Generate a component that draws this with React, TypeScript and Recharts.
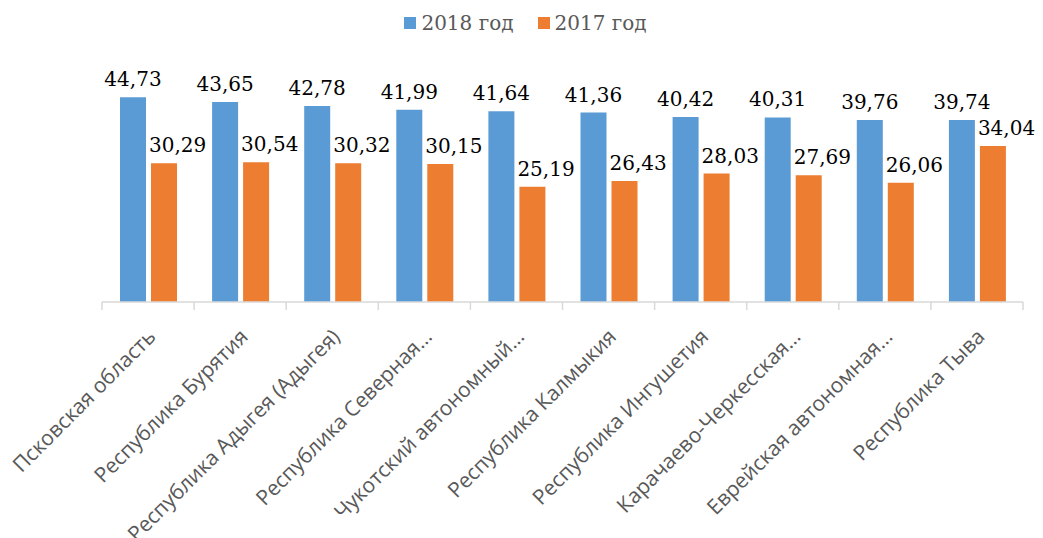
import React from 'react';
import { BarChart, Bar, XAxis, YAxis, Legend, LabelList } from 'recharts';

const categories = [
  'Псковская область',
  'Республика Бурятия',
  'Республика Адыгея (Адыгея)',
  'Республика Северная…',
  'Чукотский автономный…',
  'Республика Калмыкия',
  'Республика Ингушетия',
  'Карачаево-Черкесская…',
  'Еврейская автономная…',
  'Республика Тыва',
];
const values2018 = [44.73, 43.65, 42.78, 41.99, 41.64, 41.36, 40.42, 40.31, 39.76, 39.74];
const values2017 = [30.29, 30.54, 30.32, 30.15, 25.19, 26.43, 28.03, 27.69, 26.06, 34.04];
const seriesNames = ['2018 год', '2017 год'];
const colors = ['#5B9BD5', '#ED7D31'];

const data = categories.map((c, i) => ({ name: c, y2018: values2018[i], y2017: values2017[i] }));

const fmt = (v: number) => v.toFixed(2).replace('.', ',');
const SERIF = '"DejaVu Serif", serif';
const SANS = '"Open Sans", sans-serif';

const AxisTick = (props: any) => {
  const { x, y, payload, index, width } = props;
  const band = width / categories.length;
  const left = x - band / 2;
  const tx = x + 9;
  const ty = y + 28;
  return (
    <g>
      <line x1={left} y1={y - 8} x2={left} y2={y} stroke="#D9D9D9" strokeWidth={1.5} />
      {index === categories.length - 1 && (
        <line x1={x + band / 2} y1={y - 8} x2={x + band / 2} y2={y} stroke="#D9D9D9" strokeWidth={1.5} />
      )}
      <text
        x={tx}
        y={ty}
        textAnchor="end"
        transform={`rotate(-45, ${tx}, ${ty})`}
        fill="#595959"
        fontFamily={SANS}
        fontSize={21}
      >
        {payload.value}
      </text>
    </g>
  );
};

const BlueLabel = (props: any) => {
  const { x, y, width, value } = props;
  return (
    <text x={x + width / 2} y={y - 11} textAnchor="middle" fontFamily={SERIF} fontSize={20} fill="#000">
      {fmt(value)}
    </text>
  );
};

const OrangeLabel = (props: any) => {
  const { x, y, value } = props;
  return (
    <text x={x - 2} y={y - 11} textAnchor="start" fontFamily={SERIF} fontSize={20} fill="#000">
      {fmt(value)}
    </text>
  );
};

const LegendContent = () => (
  <div style={{ display: 'flex', justifyContent: 'center', alignItems: 'center', height: 30, fontFamily: SERIF, fontSize: 20, color: '#595959' }}>
    {seriesNames.map((n, i) => (
      <div key={n} style={{ display: 'flex', alignItems: 'center', marginRight: i === 0 ? 24 : 0 }}>
        <span style={{ display: 'inline-block', width: 12, height: 12, background: colors[i], marginRight: 5 }} />
        <span>{n}</span>
      </div>
    ))}
  </div>
);

export default function App() {
  return (
    <BarChart
      width={1035}
      height={530}
      data={data}
      margin={{ top: 35, right: 20, bottom: 0, left: 94 }}
      barSize={26}
      barGap={5}
    >
      <Legend
        verticalAlign="top"
        height={30}
        content={<LegendContent />}
        wrapperStyle={{ top: 0, left: 0, width: 1035 }}
      />
      <YAxis hide domain={[0, 50]} />
      <XAxis
        dataKey="name"
        interval={0}
        height={236}
        tickLine={false}
        axisLine={{ stroke: '#D9D9D9', strokeWidth: 1.5 }}
        tick={<AxisTick />}
      />
      <Bar dataKey="y2018" fill={colors[0]} isAnimationActive={false}>
        <LabelList dataKey="y2018" content={<BlueLabel />} />
      </Bar>
      <Bar dataKey="y2017" fill={colors[1]} isAnimationActive={false}>
        <LabelList dataKey="y2017" content={<OrangeLabel />} />
      </Bar>
    </BarChart>
  );
}
